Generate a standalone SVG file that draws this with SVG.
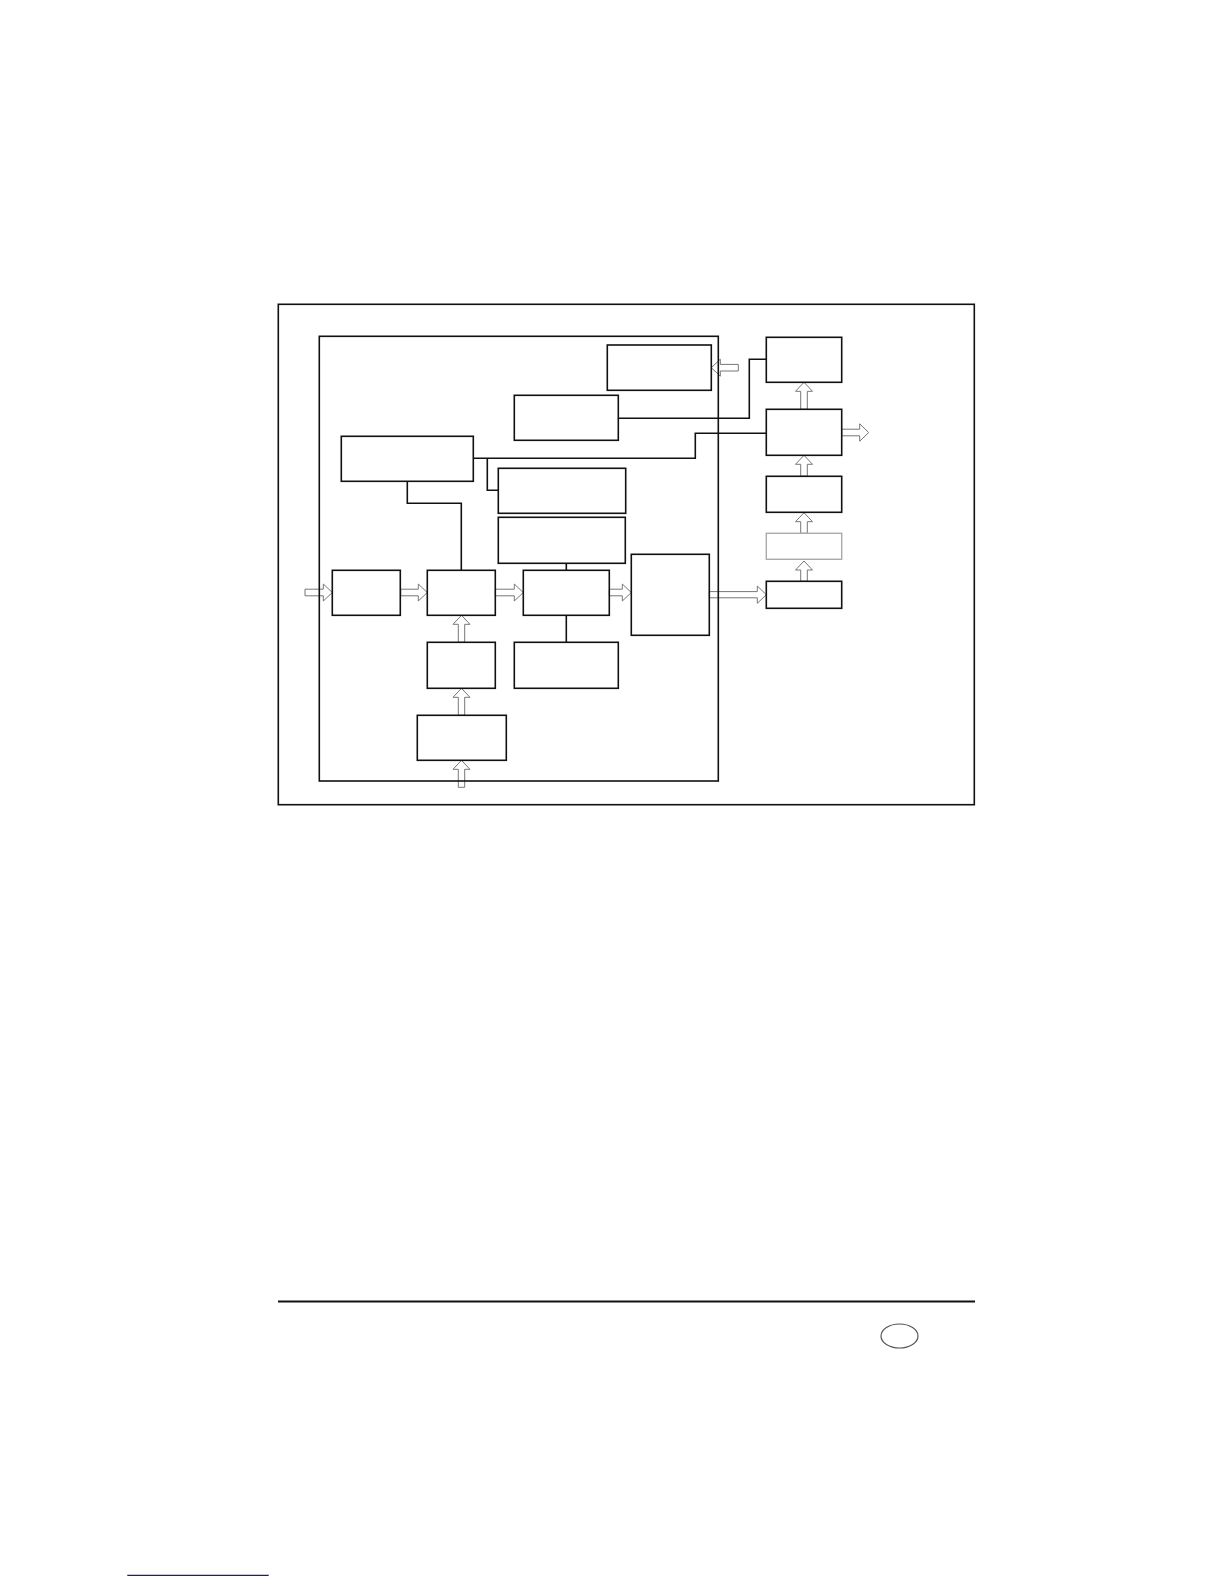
<svg xmlns="http://www.w3.org/2000/svg" width="1224" height="1584" viewBox="0 0 1224 1584">
<style>
.box{fill:none;stroke:#111;stroke-width:1.6}
.gbox{fill:none;stroke:#aaa;stroke-width:1.4}
.wire{fill:none;stroke:#111;stroke-width:1.6}
.arr{fill:#fff;stroke:#777;stroke-width:1;stroke-linejoin:miter}
</style>
<rect width="1224" height="1584" fill="#fff"/>
<g id="connectors">
<polyline class="wire" points="473.3,458.3 695.3,458.3 695.3,433.3 766.3,433.3"/>
<polyline class="wire" points="487.3,458.3 487.3,490.3 498.3,490.3"/>
<polyline class="wire" points="618.3,418.3 749.3,418.3 749.3,359.3 766.3,359.3"/>
<polyline class="wire" points="407.3,481.3 407.3,503.3 461.3,503.3 461.3,570.3"/>
<line class="wire" x1="566.3" y1="563.3" x2="566.3" y2="570.3"/>
<line class="wire" x1="566.3" y1="615.3" x2="566.3" y2="642.3"/>
<!-- right-pointing block arrows -->
<polygon class="arr" points="305,589.2 323.3,589.2 323.3,584 332.3,592.5 323.3,601 323.3,595.8 305,595.8"/>
<polygon class="arr" points="400.7,589.2 418.3,589.2 418.3,584 427.3,592.5 418.3,601 418.3,595.8 400.7,595.8"/>
<polygon class="arr" points="495.3,589.2 514.3,589.2 514.3,584 523.3,592.5 514.3,601 514.3,595.8 495.3,595.8"/>
<polygon class="arr" points="609.3,589.2 622.3,589.2 622.3,584 631.3,592.5 622.3,601 622.3,595.8 609.3,595.8"/>
<polygon class="arr" points="709.3,591.6 757.3,591.6 757.3,586 766.3,594.7 757.3,603.3 757.3,597.8 709.3,597.8"/>
<polygon class="arr" points="841.7,429.2 859.7,429.2 859.7,423.8 868.7,432.5 859.7,441.2 859.7,435.8 841.7,435.8"/>
<!-- left-pointing -->
<polygon class="arr" points="738.3,364.4 720.3,364.4 720.3,359.2 711.3,367.7 720.3,376.2 720.3,371 738.3,371"/>
<!-- up-pointing -->
<polygon class="arr" points="800.7,409.3 800.7,391.3 795.5,391.3 804,382.3 812.5,391.3 807.3,391.3 807.3,409.3"/>
<polygon class="arr" points="800.7,476.3 800.7,464.3 795.5,464.3 804,455.3 812.5,464.3 807.3,464.3 807.3,476.3"/>
<polygon class="arr" points="800.7,533.3 800.7,521.7 795.5,521.7 804,512.7 812.5,521.7 807.3,521.7 807.3,533.3"/>
<polygon class="arr" points="800.7,581.3 800.7,570 795.5,570 804,561 812.5,570 807.3,570 807.3,581.3"/>
<polygon class="arr" points="458.3,642.3 458.3,624.3 453,624.3 461.5,615.3 470,624.3 464.7,624.3 464.7,642.3"/>
<polygon class="arr" points="458.3,715.3 458.3,697.3 453,697.3 461.5,688.3 470,697.3 464.7,697.3 464.7,715.3"/>
<polygon class="arr" points="458.3,787.3 458.3,769.3 453,769.3 461.5,760.3 470,769.3 464.7,769.3 464.7,787.3"/>
</g>
<g id="frame"><rect class="box" x="278.3" y="304.3" width="696" height="500.4"/></g>
<g id="chip"><rect class="box" x="319.3" y="336.3" width="399" height="444.7"/></g>
<g id="nA"><rect class="box" x="341.3" y="436.3" width="132" height="45"/></g>
<g id="nB1"><rect class="box" x="607.3" y="345" width="104" height="45.3"/></g>
<g id="nB2"><rect class="box" x="514.3" y="395.3" width="104" height="45"/></g>
<g id="nC1"><rect class="box" x="498.3" y="468.3" width="127.4" height="45"/></g>
<g id="nC2"><rect class="box" x="498.3" y="517.3" width="127" height="46"/></g>
<g id="nD1"><rect class="box" x="332.3" y="570.3" width="68" height="45"/></g>
<g id="nD2"><rect class="box" x="427.3" y="570.3" width="68" height="45"/></g>
<g id="nD3"><rect class="box" x="523.3" y="570.3" width="86" height="45"/></g>
<g id="nD4"><rect class="box" x="631.3" y="554.3" width="78" height="81"/></g>
<g id="nE1"><rect class="box" x="427.3" y="642.3" width="68" height="46"/></g>
<g id="nE2"><rect class="box" x="514.3" y="642.3" width="104" height="46"/></g>
<g id="nF"><rect class="box" x="417.3" y="715.3" width="89" height="45"/></g>
<g id="nR1"><rect class="box" x="766.3" y="337.3" width="75.4" height="45"/></g>
<g id="nR2"><rect class="box" x="766.3" y="409.3" width="75.4" height="46"/></g>
<g id="nR3"><rect class="box" x="766.3" y="476.3" width="75.4" height="36"/></g>
<g id="nR4"><rect class="gbox" x="766.3" y="533.3" width="75.4" height="26"/></g>
<g id="nR5"><rect class="box" x="766.3" y="581.3" width="75.4" height="27"/></g>
<g id="footer">
<line x1="278" y1="1301.5" x2="975" y2="1301.5" stroke="#111" stroke-width="2"/>
<ellipse cx="899.5" cy="1336" rx="18.5" ry="12" fill="none" stroke="#555" stroke-width="1.2"/>
<line x1="127.3" y1="1575.3" x2="268.7" y2="1575.3" stroke="#1a1a8c" stroke-width="1.2"/>
</g>
</svg>
